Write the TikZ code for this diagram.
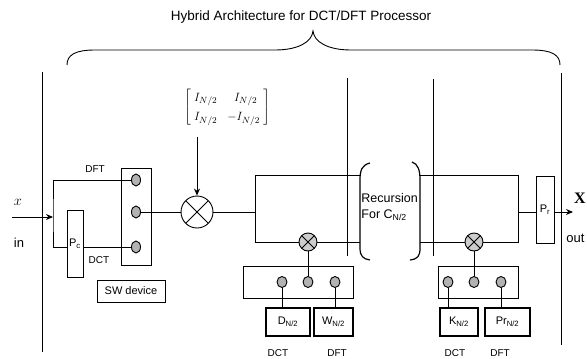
\documentclass[tikz,border=0pt]{standalone}
\usepackage{fontspec}
\setmainfont{Liberation Sans}
\newfontfamily\seriffont{Liberation Serif}
\usetikzlibrary{arrows.meta,shapes.geometric}

\tikzset{
  port/.style={ellipse, draw, fill=black!30, minimum width=9, minimum height=12, inner sep=0},
  mixer/.style={circle, draw, inner sep=0, path picture={
      \draw (path picture bounding box.north west) -- (path picture bounding box.south east)
            (path picture bounding box.north east) -- (path picture bounding box.south west);}},
  kbox/.style={draw, line width=2.5pt, inner sep=0},
  lab/.style={font=\fontsize{10}{12}\selectfont},
  arr/.style={-{Stealth[length=7pt,width=6pt]}},
}

\begin{document}
\begin{tikzpicture}[x=1pt, y=-1pt, line width=0.9pt, font=\fontsize{11}{13}\selectfont]
  \useasboundingbox (0,0) rectangle (587,359);
  % === Title and brace ===
  \node[font=\fontsize{13.5}{15}\selectfont] (title) at (301,17) {Hybrid Architecture for DCT/DFT Processor};
  \draw (67,65) .. controls (67,55) and (75,50) .. (95,50) -- (275,50)
        .. controls (298,50) and (312,42) .. (313,31)
        .. controls (314,42) and (328,50) .. (351,50) -- (532,50)
        .. controls (552,50) and (560,55) .. (560,65);
  % === Stage borders ===
  \draw (42,72) -- (42,352);
  \draw (347,78) -- (347,256);
  \draw (433,79) -- (433,256);
  \draw (561,73) -- (561,345);
  % === Input and switch ===
  \coordinate (in) at (12,217);
  \coordinate (jn) at (53,217);
  \node[font=\fontsize{15}{17}\selectfont] (xin) at (18,202) {$x$};
  \node[font=\fontsize{13}{15}\selectfont] (lin) at (19,243) {in};
  \draw[arr] (in) -- (jn);
  \node[draw, minimum width=30, minimum height=97] (swA) at (136,216.5) {};
  \node[port] (pa1) at (136,180) {};
  \node[port] (pa2) at (136,212) {};
  \node[port] (pa3) at (136,247) {};
  \draw (pa1.west) -| (jn) |- (pa3.west);
  \node[draw, fill=white, minimum width=16, minimum height=67, inner sep=0] (pc) at (75,243.5) {P\textsubscript{c}};
  \node[lab] (dft) at (95,169) {DFT};
  \node[lab] (dct) at (99,260) {DCT};
  \node[draw, line width=0.6pt, minimum width=68, minimum height=22, inner sep=0] (sw) at (131,291) {SW device};
  % === Butterfly ===
  \node[font=\fontsize{13}{15}\selectfont, inner sep=0] (mat) at (227,107)
    {\renewcommand{\arraystretch}{1.3}%
     $\left[\begin{array}{@{\;}ll@{\;}} I_{N/2} & \;\;I_{N/2}\\ I_{N/2} & -I_{N/2}\end{array}\right]$};
  \node[mixer, minimum size=32] (mA) at (197,212) {};
  \draw[arr] ([yshift=-10pt]mA |- mat.south) -- (mA.north);
  \draw (pa2.east) -- (mA.west);
  \coordinate (lA) at (255,212);
  \coordinate (lAt) at (255,175);
  \coordinate (lAb) at (255,242);
  \draw (mA.east) -- (lA);
  \draw (lAt) -- (lAb);
  \node[mixer, fill=black!20, minimum size=18] (mB) at (308,242) {};
  \draw (lAt) -- (360,175);
  \draw (lAb) -- (mB.west);
  \draw (mB.east) -- (360,242);
  % === Recursion ===
  \draw[line width=1.2pt] (370,163) .. controls (362,165) and (360,170) .. (360,180) -- (360,248)
        .. controls (360,256) and (363,259) .. (370,260);
  \draw[line width=1.2pt] (412,162) .. controls (418,164) and (420,170) .. (420,180) -- (420,248)
        .. controls (420,256) and (418,259) .. (410,260);
  \node[anchor=west, align=left, inner sep=0, font=\fontsize{12.5}{16}\selectfont] (rec) at (361,207)
    {Recursion\\For C\textsubscript{N/2}};
  % === Output stage ===
  \coordinate (rAt) at (518,175);
  \coordinate (rAm) at (518,212);
  \coordinate (rAb) at (518,242);
  \node[mixer, fill=black!20, minimum size=18] (mC) at (474,242) {};
  \draw (420,175) -- (rAt) -- (rAb) -- (mC.east);
  \draw (mC.west) -- (420,242);
  \node[draw, minimum width=18, minimum height=67, inner sep=0] (pr) at (545,209.5) {P\textsubscript{r}};
  \draw (rAm) -- (rAm -| pr.west);
  \coordinate (xo) at (573,212);
  \draw[arr] (rAm -| pr.east) -- (xo);
  \node[font=\fontsize{16}{18}\seriffont\bfseries] (xout) at (580,198) {X};
  \node[anchor=west, inner sep=0, font=\fontsize{13}{15}\selectfont] (lout) at (566,238) {out};
  % === Coefficient switches ===
  \node[draw, minimum width=110, minimum height=32] (swB) at (298,282) {};
  \node[port, minimum width=10, minimum height=11] (pb1) at (282,282) {};
  \node[port, minimum width=10, minimum height=11] (pb2) at (308,282) {};
  \node[port, minimum width=10, minimum height=11] (pb3) at (335,282) {};
  \node[kbox, minimum width=44, minimum height=28] (dB) at (288,322) {D\textsubscript{N/2}};
  \node[kbox, minimum width=39, minimum height=28] (wB) at (333.5,322) {W\textsubscript{N/2}};
  \draw (mB.south) -- (pb2.north);
  \draw (pb1.south) -- (pb1 |- dB.north);
  \draw (pb3.south) -- (pb3 |- wB.north);
  \node[lab] (dctB) at (278,353) {DCT};
  \node[lab] (dftB) at (337,353) {DFT};
  \node[draw, minimum width=80, minimum height=32] (swC) at (478,282) {};
  \node[port, minimum width=10, minimum height=11] (pc1) at (448,282) {};
  \node[port, minimum width=10, minimum height=11] (pc2) at (474,282) {};
  \node[port, minimum width=10, minimum height=11] (pc3) at (501,282) {};
  \node[kbox, minimum width=38, minimum height=28] (kB) at (459,322) {K\textsubscript{N/2}};
  \node[kbox, minimum width=45, minimum height=28] (prB) at (507.5,322) {Pr\textsubscript{N/2}};
  \draw (mC.south) -- (pc2.north);
  \draw (pc1.south) -- (pc1 |- kB.north);
  \draw (pc3.south) -- (pc3 |- prB.north);
  \node[lab] (dctC) at (455,353) {DCT};
  \node[lab] (dftC) at (500,353) {DFT};
\end{tikzpicture}
\end{document}
